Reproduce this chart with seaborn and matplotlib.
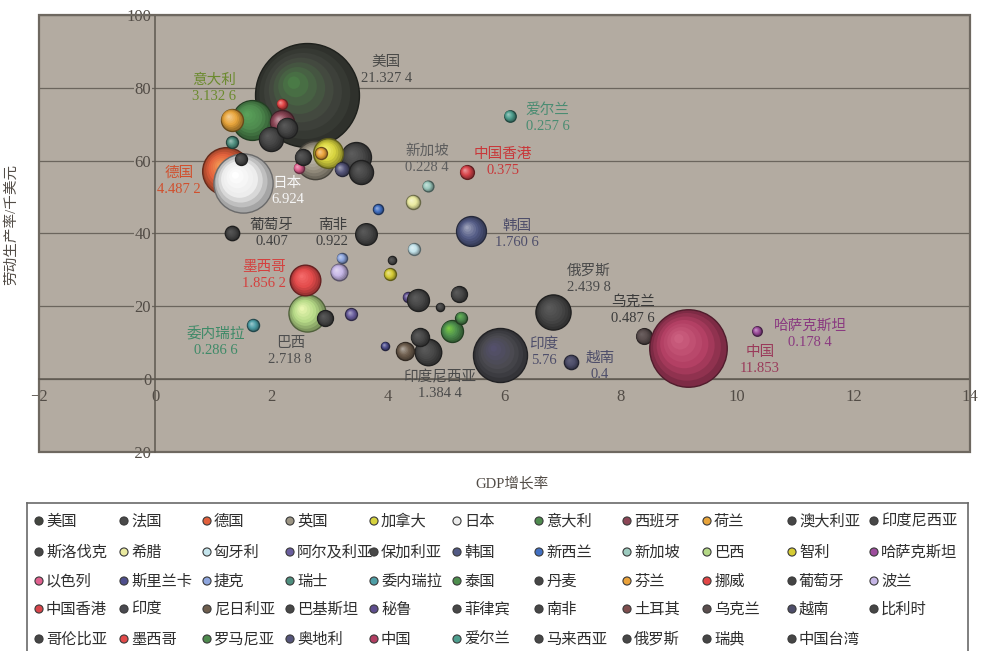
import matplotlib
matplotlib.use("Agg")
import matplotlib.pyplot as plt
from matplotlib.patches import Rectangle
from matplotlib.colors import to_rgb
from matplotlib.transforms import offset_copy
import numpy as np
import pandas as pd
import seaborn as sns

# ---- data: GDP growth (%), labour productivity (k USD), GDP (trillion USD) ----
countries = [
    "美国", "法国", "德国", "英国", "加拿大", "日本", "意大利", "西班牙", "荷兰", "澳大利亚", "印度尼西亚",
    "斯洛伐克", "希腊", "匈牙利", "阿尔及利亚", "保加利亚", "韩国", "新西兰", "新加坡", "巴西", "智利", "哈萨克斯坦",
    "以色列", "斯里兰卡", "捷克", "瑞士", "委内瑞拉", "泰国", "丹麦", "芬兰", "挪威", "葡萄牙", "波兰",
    "中国香港", "印度", "尼日利亚", "巴基斯坦", "秘鲁", "菲律宾", "南非", "土耳其", "乌克兰", "越南", "比利时",
    "哥伦比亚", "墨西哥", "罗马尼亚", "奥地利", "中国", "爱尔兰", "马来西亚", "俄罗斯", "瑞典", "中国台湾",
]
gdp_growth = [
    2.60, 3.44, 1.21, 2.75, 2.97, 1.50, 1.66, 2.17, 1.31, 1.98, 4.68,
    4.07, 4.43, 4.44, 3.37, 4.90, 5.42, 3.83, 4.68, 2.60, 4.03, 10.34,
    2.46, 3.95, 3.20, 1.32, 1.68, 5.09, 1.47, 2.85, 2.17, 1.32, 3.15,
    5.35, 5.93, 4.29, 4.54, 4.34, 5.21, 3.62, 4.50, 8.39, 7.15, 2.53,
    2.92, 2.58, 5.26, 3.20, 9.16, 6.09, 4.51, 6.84, 2.26, 3.54,
]
productivity = [
    77.9, 60.9, 57.1, 60.1, 62.0, 54.0, 71.3, 70.5, 71.3, 66.0, 7.4,
    32.6, 48.6, 35.7, 17.8, 19.8, 40.6, 46.6, 53.0, 18.1, 28.8, 13.2,
    58.0, 9.1, 33.2, 65.0, 14.8, 13.2, 60.4, 62.0, 75.6, 40.0, 29.4,
    56.9, 6.6, 7.7, 11.5, 22.5, 23.3, 39.8, 22.0, 11.8, 4.7, 60.9,
    16.7, 27.2, 16.9, 57.6, 8.5, 72.3, 21.7, 18.4, 69.0, 56.8,
]
gdp = [
    21.3274, 1.77, 4.4872, 2.90, 1.75, 6.924, 3.1326, 1.14, 0.95, 1.14, 1.3844,
    0.13, 0.39, 0.28, 0.28, 0.13, 1.7606, 0.20, 0.2284, 2.7188, 0.28, 0.1784,
    0.20, 0.13, 0.20, 0.28, 0.2866, 0.95, 0.28, 0.28, 0.20, 0.407, 0.55,
    0.375, 5.76, 0.64, 0.64, 0.20, 0.50, 0.922, 0.25, 0.4876, 0.40, 0.50,
    0.50, 1.8562, 0.28, 0.39, 11.853, 0.2576, 0.95, 2.4398, 0.80, 1.14,
]

# ---- styling ----
colors = {
    "美国": "#43463f", "法国": "#4a4a4a", "德国": "#e2603c", "英国": "#9c9584", "加拿大": "#d6d23e",
    "日本": "#ececec", "意大利": "#4e8a4e", "西班牙": "#8c4656", "荷兰": "#e8a43a", "澳大利亚": "#464646",
    "印度尼西亚": "#484848", "斯洛伐克": "#474747", "希腊": "#eaeaa0", "匈牙利": "#c4e4ec",
    "阿尔及利亚": "#6a5e9e", "保加利亚": "#484848", "韩国": "#525a84", "新西兰": "#4270c2",
    "新加坡": "#9ccabe", "巴西": "#b4d886", "智利": "#d6cc34", "哈萨克斯坦": "#9c4c9c",
    "以色列": "#e0608e", "斯里兰卡": "#4e4e8c", "捷克": "#8ea6de", "瑞士": "#4e8e7e",
    "委内瑞拉": "#4e9ea6", "泰国": "#4e8e4e", "丹麦": "#464646", "芬兰": "#eaa23a", "挪威": "#e24646",
    "葡萄牙": "#444444", "波兰": "#c6b6e6", "中国香港": "#d8444a", "印度": "#4a4a50",
    "尼日利亚": "#6e5e4e", "巴基斯坦": "#484848", "秘鲁": "#5e4e8e", "菲律宾": "#484848",
    "南非": "#474747", "土耳其": "#7e4e4e", "乌克兰": "#5a4e4e", "越南": "#4e4e6a", "比利时": "#464646",
    "哥伦比亚": "#464646", "墨西哥": "#e24a4a", "罗马尼亚": "#4e8a4e", "奥地利": "#55557a",
    "中国": "#b23e62", "爱尔兰": "#4e9e8e", "马来西亚": "#484848", "俄罗斯": "#484848",
    "瑞典": "#464646", "中国台湾": "#464646",
}
highlight = {
    "美国": "#4a7a46", "巴西": "#e8f6b0", "日本": "#ffffff", "德国": "#f29452", "中国": "#cc6080",
    "意大利": "#5aa05a", "墨西哥": "#f46a6a", "泰国": "#78c846", "罗马尼亚": "#64b454",
    "加拿大": "#f6f276", "印度": "#54506c", "土耳其": "#a04040",
}

# labelled bubbles: text centre (x, y) in data units and colour
label_pos = {
    "美国": (3.97, 84.8), "意大利": (1.01, 79.8), "德国": (0.41, 54.3), "日本": (2.27, 51.6),
    "葡萄牙": (2.00, 40.1), "南非": (3.04, 40.1), "墨西哥": (1.86, 28.5), "委内瑞拉": (1.04, 10.2),
    "巴西": (2.32, 7.7), "新加坡": (4.67, 60.4), "中国香港": (5.97, 59.5), "爱尔兰": (6.74, 71.6),
    "韩国": (6.22, 39.8), "俄罗斯": (7.45, 27.4), "乌克兰": (8.21, 18.9), "印度": (6.68, 7.4),
    "越南": (7.64, 3.6), "印度尼西亚": (4.89, -1.6), "哈萨克斯坦": (11.25, 12.3), "中国": (10.39, 5.2),
}
label_color = {
    "美国": "#4a4a48", "意大利": "#6b8a2e", "德国": "#d0502e", "日本": "#f6f6f6", "葡萄牙": "#3e3e3e",
    "南非": "#3e3e3e", "墨西哥": "#d4403e", "委内瑞拉": "#3f8a68", "巴西": "#4f4f4f", "新加坡": "#5e5e5e",
    "中国香港": "#c8383a", "爱尔兰": "#4a8c72", "韩国": "#4e4e6a", "俄罗斯": "#4a4a4a", "乌克兰": "#3a3a3a",
    "印度": "#4e4e6a", "越南": "#4e4e6a", "印度尼西亚": "#4a4a4a", "哈萨克斯坦": "#8a3a80", "中国": "#9a3a5a",
}

BG = "#b3aba1"
GRID = "#6b655d"
TXT = "#524c46"
S_MAX = 5600.0  # marker area (pt^2) of the largest economy
N_SHADES = 8


def mix(c1, c2, t):
    a, b = np.array(to_rgb(c1)), np.array(to_rgb(c2))
    return tuple(a * (1 - t) + b * t)


def fmt_value(v):
    s = f"{v:.4f}".rstrip("0").rstrip(".")
    ip, _, dec = s.partition(".")
    if len(dec) > 3:
        dec = dec[:3] + " " + dec[3:]
    return ip + ("." + dec if dec else "")


df = pd.DataFrame({"country": countries, "growth": gdp_growth, "prod": productivity, "gdp": gdp})
gmax = df["gdp"].max()

sns.set_theme(style="white")
plt.rcParams["font.family"] = ["Liberation Serif", "Noto Sans CJK SC"]

fig = plt.figure(figsize=(9.84, 6.51), dpi=100)
fig.patch.set_facecolor("white")
ax = fig.add_axes([39 / 984, 1 - 452 / 651, 931 / 984, 437 / 651])
ax.set_facecolor(BG)
ax.set_xlim(-2, 14)
ax.set_ylim(-20, 100)

# shaded bubbles, drawn in series order (later series on top)
radius_fracs = np.linspace(1.0, 0.12, N_SHADES)
for i in range(len(df)):
    row = df.iloc[[i]]
    c = row["country"].iloc[0]
    base = colors[c]
    dark = sum(to_rgb(base)) / 3 < 0.35
    light = highlight.get(c, mix(base, "white", 0.1 if dark else 0.42))
    outer = mix(base, "black", 0.3)
    r_pt = np.sqrt(S_MAX * row["gdp"].iloc[0] / gmax) / 2
    for k, rf in enumerate(radius_fracs):
        t = 1 - rf  # 0 at rim, ~1 at centre
        if t < 0.35:
            fc = mix(outer, base, t / 0.35)
        else:
            fc = mix(base, light, (t - 0.35) / 0.53)
        first = k == 0
        sns.scatterplot(data=row, x="growth", y="prod", size="gdp",
                        sizes=(0, S_MAX * rf ** 2), size_norm=(0, gmax),
                        color=fc, edgecolor=mix(base, "black", 0.55) if first else "none",
                        linewidth=1.0 if first else 0, legend=False,
                        ax=ax, zorder=3 + i * 0.01 + k * 0.0005)
        if not first:
            off = (1 - rf) * 0.28 * r_pt
            ax.collections[-1].set_offset_transform(
                offset_copy(ax.transData, fig=fig, x=-off, y=off, units="points"))

# value labels
for c, (lx, ly) in label_pos.items():
    v = df.loc[df["country"] == c, "gdp"].iloc[0]
    ax.text(lx, ly, f"{c}\n{fmt_value(v)}", ha="center", va="center",
            fontsize=10.5, color=label_color[c], linespacing=1.3, zorder=10)

# axes through the origin, gridlines, outer frame
ax.set_yticks(range(-20, 101, 20))
ax.set_xticks(range(-2, 15, 2))
ax.yaxis.grid(True, color=GRID, lw=0.9)
ax.xaxis.grid(False)
ax.set_axisbelow(True)
for side in ("left", "bottom"):
    ax.spines[side].set_position(("data", 0))
    ax.spines[side].set_color("#5e5850")
    ax.spines[side].set_linewidth(1.1)
    ax.spines[side].set_zorder(2)
for side in ("top", "right"):
    ax.spines[side].set_color("#6e6860")
    ax.spines[side].set_linewidth(1.4)
ax.add_patch(Rectangle((0, 0), 1, 1, transform=ax.transAxes, fill=False,
                       ec="#6e6860", lw=1.6, clip_on=False, zorder=1))
ax.tick_params(axis="y", length=0, pad=3, labelsize=12, labelcolor=TXT)
ax.tick_params(axis="x", direction="in", length=4, width=0.9, color="#5e5850",
               pad=7, labelsize=12, labelcolor=TXT)
for t in ax.get_yticklabels()[1:-1]:
    t.set_bbox(dict(facecolor=BG, edgecolor="none", pad=0.6))

ax.set_xlabel("GDP增长率", fontsize=10.5, color=TXT)
ax.set_ylabel("劳动生产率/千美元", fontsize=10.5, color=TXT)
ax.xaxis.set_label_coords(0.508, -0.057)
ax.yaxis.set_label_coords(-0.023, 0.52)

# legend grid below the plot (5 rows x 11 columns, row-major)
lax = fig.add_axes([27 / 984, -0.004, 941 / 984, (651 - 503) / 651 + 0.004])
lax.set_xlim(27, 968)
lax.set_ylim(653.6, 503)
col_x = [39, 124, 207, 290, 374, 457, 539, 627, 707, 792, 874]
row_y = [521, 552, 581, 609, 639]
leg = pd.DataFrame({
    "country": countries,
    "lx": [col_x[i % 11] for i in range(len(countries))],
    "ly": [row_y[i // 11] for i in range(len(countries))],
})
sns.scatterplot(data=leg, x="lx", y="ly", hue="country", palette=colors, s=34,
                edgecolor="#3a3a3a", linewidth=0.8, legend=False, ax=lax)
for _, r in leg.iterrows():
    lax.text(r["lx"] + 7, r["ly"], r["country"], va="center", ha="left",
             fontsize=11, color="#2e2e2e", family=["Noto Sans CJK SC"])
lax.set_xticks([])
lax.set_yticks([])
lax.set_xlabel("")
lax.set_ylabel("")
lax.set_facecolor("white")
for s in lax.spines.values():
    s.set_color("#6a6a6a")
    s.set_linewidth(1.2)

fig.savefig("out.png", dpi=100, facecolor="white")
